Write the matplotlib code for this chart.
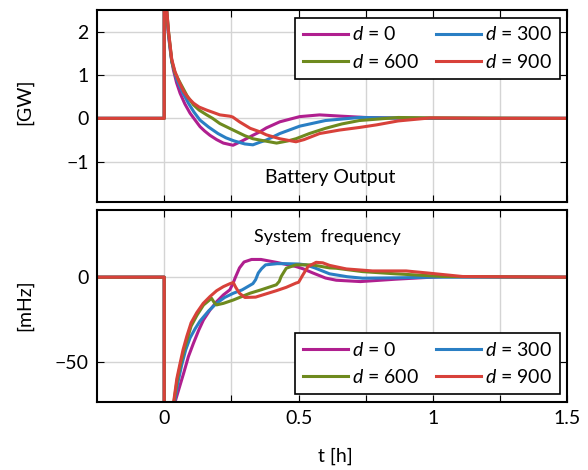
import matplotlib.pyplot as plt

plt.rcParams['font.family'] = ['Lato', 'DejaVu Sans']
plt.rcParams['mathtext.fontset'] = 'custom'
plt.rcParams['mathtext.it'] = 'Lato:italic'
plt.rcParams['mathtext.rm'] = 'Lato'

labels = [r"$d$ = 0", r"$d$ = 300", r"$d$ = 600", r"$d$ = 900"]
colors = ['#b01f8f', '#2a7fc4', '#6e8a1e', '#d8413a']

# Battery output [GW]
bat_t0 = [-0.25, 0, 0, 0.008, 0.016, 0.025, 0.034, 0.046, 0.059, 0.077, 0.096, 0.115, 0.133,
          0.15, 0.17, 0.195, 0.22, 0.256, 0.29, 0.33, 0.356, 0.38, 0.43, 0.504, 0.578, 0.66,
          0.75, 0.9, 1.5]
bat_v0 = [0, 0, 3.5, 2.5, 1.9, 1.45, 1.12, 0.82, 0.58, 0.33, 0.12, -0.04, -0.19,
          -0.29, -0.39, -0.49, -0.57, -0.62, -0.52, -0.39, -0.31, -0.22, -0.08, 0.04, 0.08, 0.05,
          0.02, 0.0, 0.0]
bat_t300 = [-0.25, 0, 0, 0.008, 0.016, 0.028, 0.047, 0.07, 0.09, 0.11, 0.133, 0.165, 0.2,
            0.23, 0.26, 0.3, 0.33, 0.356, 0.38, 0.43, 0.504, 0.6, 0.726, 0.85, 1.0, 1.5]
bat_v300 = [0, 0, 3.5, 2.55, 1.95, 1.3, 0.89, 0.58, 0.35, 0.15, -0.04, -0.2, -0.35,
            -0.45, -0.52, -0.59, -0.61, -0.55, -0.5, -0.35, -0.18, -0.05, 0.02, 0.01, 0.0, 0.0]
bat_t600 = [-0.25, 0, 0, 0.008, 0.016, 0.028, 0.04, 0.06, 0.085, 0.109, 0.13, 0.158, 0.18,
            0.207, 0.24, 0.27, 0.3, 0.33, 0.356, 0.418, 0.46, 0.49, 0.54, 0.6, 0.66, 0.726,
            0.87, 1.0, 1.5]
bat_v600 = [0, 0, 3.5, 2.6, 2.0, 1.33, 1.05, 0.81, 0.52, 0.31, 0.19, 0.08, 0.0,
            -0.12, -0.22, -0.31, -0.4, -0.47, -0.5, -0.57, -0.52, -0.47, -0.35, -0.23, -0.13, -0.05,
            0.02, 0.01, 0.0]
bat_t900 = [-0.25, 0, 0, 0.008, 0.016, 0.028, 0.04, 0.052, 0.072, 0.09, 0.109, 0.13, 0.158,
            0.185, 0.207, 0.244, 0.255, 0.28, 0.32, 0.356, 0.38, 0.43, 0.49, 0.52, 0.578, 0.652,
            0.726, 0.79, 0.87, 0.99, 1.2, 1.5]
bat_v900 = [0, 0, 3.5, 2.6, 2.0, 1.36, 1.08, 0.89, 0.62, 0.47, 0.35, 0.26, 0.19,
            0.13, 0.08, 0.05, 0.03, -0.08, -0.23, -0.31, -0.38, -0.47, -0.54, -0.49, -0.35, -0.27,
            -0.21, -0.15, -0.06, 0.01, 0.0, 0.0]

# System frequency [mHz]
frq_t0 = [-0.25, 0, 0, 0.04, 0.055, 0.072, 0.09, 0.109, 0.128, 0.146, 0.17, 0.195, 0.22,
          0.244, 0.255, 0.265, 0.28, 0.297, 0.325, 0.36, 0.42, 0.49, 0.516, 0.553, 0.6, 0.64,
          0.73, 0.86, 1.04, 1.5]
frq_v0 = [0, 0, -90, -74, -66, -57, -47, -39, -31.5, -25.3, -19.5, -14.5, -10.5,
          -7.5, -4, 0, 5.5, 9, 10.5, 10.5, 8.7, 6.3, 5, 2.5, -0.5, -1.8,
          -2.6, -1.2, 0.4, 0]
frq_t300 = [-0.25, 0, 0, 0.038, 0.05, 0.065, 0.08, 0.096, 0.115, 0.133, 0.165, 0.195, 0.225,
            0.257, 0.29, 0.33, 0.34, 0.35, 0.362, 0.377, 0.42, 0.454, 0.5, 0.527, 0.56, 0.615,
            0.68, 0.738, 0.86, 1.0, 1.5]
frq_v300 = [0, 0, -90, -74, -63, -52, -43, -36, -30.5, -26, -20, -15.4, -12,
            -9.5, -7.5, -3.8, -1.5, 2.5, 5, 7.3, 8, 8, 7.8, 7.3, 5.5, 2,
            0.3, -0.6, -0.4, 0, 0]
frq_t600 = [-0.25, 0, 0, 0.036, 0.048, 0.06, 0.072, 0.086, 0.1, 0.122, 0.146, 0.176, 0.186,
            0.195, 0.22, 0.257, 0.319, 0.36, 0.417, 0.428, 0.435, 0.445, 0.454, 0.49, 0.55, 0.615,
            0.64, 0.738, 0.86, 1.04, 1.5]
frq_v600 = [0, 0, -90, -74, -61, -52, -44, -36.5, -29, -22.5, -16.5, -12.5, -15,
            -16.4, -15.5, -13.5, -9.5, -7.5, -4.5, -2.5, 0.4, 3, 5.3, 7.3, 7.3, 5.5,
            5.3, 3.3, 2, 0.4, 0]
frq_t900 = [-0.25, 0, 0, 0.035, 0.047, 0.059, 0.07, 0.084, 0.1, 0.121, 0.145, 0.17, 0.195,
            0.22, 0.245, 0.257, 0.266, 0.28, 0.3, 0.34, 0.417, 0.454, 0.49, 0.5, 0.516, 0.535,
            0.565, 0.59, 0.615, 0.677, 0.775, 0.9, 0.985, 1.11, 1.5]
frq_v900 = [0, 0, -90, -74, -60, -51, -43, -35, -27, -21, -15.5, -11.5, -8,
            -5.6, -3.8, -3.2, -6, -9.5, -12, -11.8, -8, -6, -3.5, -3, 1.4, 6.3,
            8.8, 8.5, 7, 4.9, 3.7, 3.7, 2.4, 0.4, 0]

bat = [(bat_t0, bat_v0), (bat_t300, bat_v300), (bat_t600, bat_v600), (bat_t900, bat_v900)]
frq = [(frq_t0, frq_v0), (frq_t300, frq_v300), (frq_t600, frq_v600), (frq_t900, frq_v900)]

fig = plt.figure(figsize=(5.88, 4.70), dpi=100)
ax1 = fig.add_axes([0.165, 0.570, 0.800, 0.409])
ax2 = fig.add_axes([0.165, 0.145, 0.800, 0.409])

xt = [0, 0.25, 0.5, 0.75, 1.0, 1.25, 1.5]
xl = ['0', '', '0.5', '', '1', '', '1.5']

for ax, data in [(ax1, bat), (ax2, frq)]:
    lines = []
    for (t, v), c, lab in zip(data, colors, labels):
        ln, = ax.plot(t, v, color=c, lw=2.2, label=lab)
        lines.append(ln)
    ax.set_xticks(xt)
    ax.set_xlim(-0.25, 1.5)
    ax.grid(True, color='#d4d4d4', lw=1)
    ax.tick_params(direction='in', top=True, right=True, labelsize=14, pad=6, length=5)
    for s in ax.spines.values():
        s.set_linewidth(1.5)
    # legend order: column 1 = d=0, d=600 ; column 2 = d=300, d=900
    order = [0, 2, 1, 3]
    leg = ax.legend([lines[i] for i in order], [labels[i] for i in order], ncol=2,
                    loc='upper right' if ax is ax1 else 'lower right',
                    fontsize=14, fancybox=False, edgecolor='black', framealpha=1,
                    handlelength=2.3, handletextpad=0.2, columnspacing=0.9,
                    labelspacing=0.5, borderaxespad=0.4)
    leg.get_frame().set_linewidth(1.2)

ax1.set_ylim(-1.93, 2.5)
ax1.set_yticks([-1, 0, 1, 2])
ax1.set_xticklabels([])
ax1.text(0.495, 0.13, 'Battery Output', transform=ax1.transAxes, ha='center', va='center', fontsize=14)

ax2.set_ylim(-73.8, 40)
ax2.set_yticks([-50, 0])
ax2.set_xticklabels(xl)
ax2.text(0.49, 0.86, 'System  frequency', transform=ax2.transAxes, ha='center', va='center', fontsize=13)

fig.text(25 / 588, 1 - 102 / 470, '[GW]', rotation=90, ha='center', va='center', fontsize=14)
fig.text(25 / 588, 1 - 305 / 470, '[mHz]', rotation=90, ha='center', va='center', fontsize=14)
fig.text(335 / 588, 1 - 456 / 470, 't [h]', ha='center', va='center', fontsize=14)

fig.savefig('out.png', dpi=100)
